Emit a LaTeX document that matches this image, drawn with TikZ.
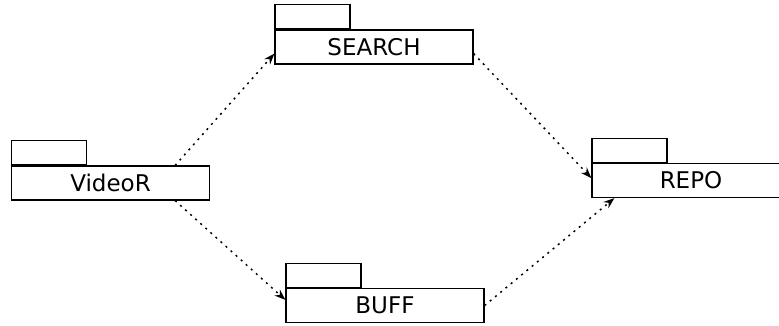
\documentclass[tikz,border=0pt]{standalone}
\usepackage{fontspec}
\setmainfont{DejaVu Sans}
\usetikzlibrary{positioning, arrows.meta}

\begin{document}
\begin{tikzpicture}[
        x=1pt, y=-1pt,
        font=\fontsize{23}{27}\selectfont,
        pkg/.style={rectangle, draw, line width=1.2pt, minimum width=198pt, minimum height=34pt, inner sep=0pt},
        pkgtab/.style={rectangle, draw, line width=1.2pt, minimum width=75pt, minimum height=24pt, inner sep=0pt, anchor=south west},
        dep/.style={-{Stealth[length=11pt, width=8pt]}, line width=1.5pt, dash pattern=on 2pt off 4.8pt},
    ]
        \useasboundingbox (0,0) rectangle (779,325);

        % Packages
        \node[pkg] (vr) at (110.5,183) {VideoR};
        \node[pkgtab] (vrtab) at (vr.north west) {};

        \node[pkg] (search) at (374,47) {SEARCH};
        \node[pkgtab] (searchtab) at (search.north west) {};

        \node[pkg] (repo) at (691,180.5) {REPO};
        \node[pkgtab] (repotab) at (repo.north west) {};

        \node[pkg] (buff) at (385,305.5) {BUFF};
        \node[pkgtab] (bufftab) at (buff.north west) {};

        % Dependencies
        \draw[dep] ([xshift=-35pt]vr.north east) -- ([yshift=11pt]search.south west);
        \draw[dep] ([xshift=-35pt]vr.south east) -- ([yshift=-12pt]buff.north west);
        \draw[dep] ([yshift=11pt]search.south east) -- ([yshift=20pt]repo.south west);
        \draw[dep] (buff.east) -- ([xshift=23pt]repo.south west);

    \end{tikzpicture}
\end{document}
